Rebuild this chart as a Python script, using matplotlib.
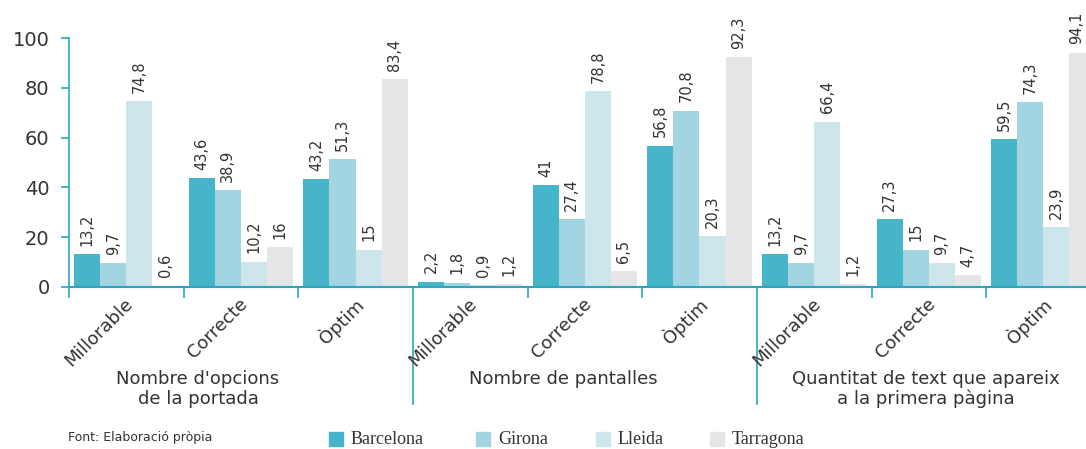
import matplotlib.pyplot as plt
from matplotlib.patches import Rectangle

# Data
cities = ["Barcelona", "Girona", "Lleida", "Tarragona"]
categories = ["Millorable", "Correcte", "Òptim"] * 3
groups = ["Nombre d'opcions\nde la portada", "Nombre de pantalles",
          "Quantitat de text que apareix\na la primera pàgina"]

barcelona = [13.2, 43.6, 43.2, 2.2, 41, 56.8, 13.2, 27.3, 59.5]
girona = [9.7, 38.9, 51.3, 1.8, 27.4, 70.8, 9.7, 15, 74.3]
lleida = [74.8, 10.2, 15, 0.9, 78.8, 20.3, 66.4, 9.7, 23.9]
tarragona = [0.6, 16, 83.4, 1.2, 6.5, 92.3, 1.2, 4.7, 94.1]

series = [barcelona, girona, lleida, tarragona]
colors = ["#47b5c9", "#a3d4e1", "#cde6ec", "#e4e6e8"]
axis_color = "#2aa6bf"
text_color = "#333333"

plt.rcParams['font.family'] = ['DejaVu Sans']

fig = plt.figure(figsize=(10.86, 4.49), dpi=100)
ax = fig.add_axes([69 / 1086, 162 / 449, 1 - 69 / 1086, 249 / 449])

xmax = 8.87
bw = 0.227
start = 0.045
for i, vals in enumerate(series):
    xs = [k + start + i * bw for k in range(len(vals))]
    ax.bar(xs, vals, width=bw, align='edge', color=colors[i], linewidth=0)
    for x, v in zip(xs, vals):
        lab = ("%g" % v).replace(".", ",")
        # keep the last label inside the figure
        tx = min(x + bw / 2, xmax - 0.08)
        ax.text(tx, v + 3.3, lab, rotation=90, ha='center', va='bottom',
                fontsize=10.5, color=text_color, clip_on=False)

ax.set_xlim(0, xmax)
ax.set_ylim(0, 100)
ax.set_yticks([0, 20, 40, 60, 80, 100])
ax.tick_params(axis='y', colors=axis_color, labelcolor=text_color, labelsize=14,
               length=6, width=1.2, pad=8)
ax.set_xticks([])
for s in ['top', 'right']:
    ax.spines[s].set_visible(False)
ax.spines['left'].set_color(axis_color)
ax.spines['bottom'].set_color(axis_color)
ax.spines['left'].set_linewidth(1.2)
ax.spines['bottom'].set_linewidth(1.5)

# category boundary ticks and group separators
for k in range(10):
    if k in (3, 6):
        ax.plot([k, k], [0, -47], color=axis_color, lw=1.2, clip_on=False)
    else:
        ax.plot([k, k], [0, -4], color=axis_color, lw=1.2, clip_on=False)

# category labels
for k, c in enumerate(categories):
    ax.text(k + 0.48, -3, c, rotation=45, ha='right', va='top', rotation_mode='anchor',
            fontsize=13, color=text_color, clip_on=False)

# group labels
group_x = [1.125, 4.31, 7.47]
for gx, name in zip(group_x, groups):
    ax.text(gx, -33.5, name, ha='center', va='top', fontsize=13,
            color=text_color, linespacing=1.1, clip_on=False)

fig.text(68 / 1086, 1 - 438 / 449, "Font: Elaboració pròpia", fontsize=9,
         color=text_color, va='center')

# legend
leg_x = [329, 476, 596, 710]
for name, col, x in zip(cities, colors, leg_x):
    fig.patches.append(Rectangle((x / 1086, 1 - 446 / 449), 14 / 1086, 14 / 449,
                                 transform=fig.transFigure, color=col))
    fig.text((x + 22) / 1086, 1 - 439 / 449, name, fontsize=13, va='center',
             family='Liberation Serif', color=text_color)

fig.savefig("out.png", dpi=100)
